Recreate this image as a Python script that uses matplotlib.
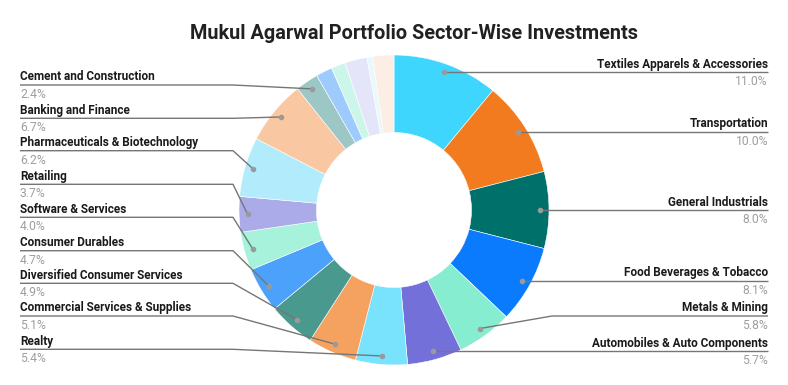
import numpy as np
import matplotlib
matplotlib.use("Agg")
import matplotlib.pyplot as plt
from matplotlib import font_manager as fm

plt.rcParams['font.family'] = ['Roboto', 'DejaVu Sans']

sectors = ["Textiles Apparels & Accessories", "Transportation", "General Industrials",
           "Food Beverages & Tobacco", "Metals & Mining", "Automobiles & Auto Components",
           "Realty", "Commercial Services & Supplies", "Diversified Consumer Services",
           "Consumer Durables", "Software & Services", "Retailing",
           "Pharmaceuticals & Biotechnology", "Banking and Finance", "Cement and Construction",
           "Other 1", "Other 2", "Other 3", "Other 4", "Other 5"]
shares = [11.0, 10.0, 8.0, 8.1, 5.8, 5.7, 5.4, 5.1, 4.9, 4.7, 4.0, 3.7, 6.2, 6.7, 2.4,
          1.7, 1.5, 2.3, 0.6, 2.2]
colors = ["#3fd6fe", "#f37b1f", "#00716a", "#0a7bfd", "#86edd0", "#7470da",
          "#79e3fd", "#f5a160", "#4a998f", "#4ca2fa", "#a6f2da", "#acabea",
          "#b2ecfc", "#f9c8a2", "#9cc7c4", "#9dcbfd", "#cdf6ea", "#e4e5f8",
          "#e8f9fe", "#fdeee5"]
n_labeled = 15
right_count = 6

W, H = 788, 385
fig = plt.figure(figsize=(W / 100, H / 100), dpi=100)
ax = fig.add_axes([0, 0, 1, 1])

def Y(py):
    return H - py

cx, cy, R = 394, 210, 155
wedges, _ = ax.pie(shares, colors=colors, startangle=90, counterclock=False,
                   center=(cx, Y(cy)), radius=R,
                   wedgeprops=dict(width=R * 0.5, edgecolor='white', linewidth=0.4))
ax.set_xlim(0, W)
ax.set_ylim(0, H)
ax.axis('off')

fig.text(414 / W, Y(39) / H, "Mukul Agarwal Portfolio Sector-Wise Investments",
         ha='center', va='baseline', fontsize=14.3, fontweight='bold', color='#212121')

# name font: bold Roboto, sized so the labels span about the reference width
name_prop = fm.FontProperties(family=['Roboto', 'DejaVu Sans'], weight='bold')
renderer = fig.canvas.get_renderer()
name_prop.set_size(10)
probe = ax.text(0, 0, sectors[0], fontproperties=name_prop)
wpx = probe.get_window_extent(renderer).width
probe.remove()
name_fs = 10 * 171.0 / wpx
name_prop.set_size(name_fs)

right_lines = [72.3, 131.7, 211.7, 282.3, 316, 349.3]
left_lines = [349.3, 316, 283.3, 250.7, 217.3, 184.3, 150.7, 118.3, 85]
line_color = '#767676'
pct_fs = 8.7
for i in range(n_labeled):
    w = wedges[i]
    mid = np.deg2rad((w.theta1 + w.theta2) / 2)
    dx = cx + 0.945 * R * np.cos(mid)
    dy = Y(cy) + 0.945 * R * np.sin(mid)
    pct = f"{shares[i]:.1f}%"
    if i < right_count:
        ly = Y(right_lines[i])
        if abs(dy - ly) < 3:
            xs, ys = [dx, 768], [dy, dy]
            ly = dy
        else:
            xs, ys = [dx, 552, 768], [dy, ly, ly]
        ax.plot(xs, ys, color=line_color, lw=1.0, solid_capstyle='butt')
        ax.text(768, ly + 4.5, sectors[i], ha='right', va='baseline',
                fontproperties=name_prop, color='#1a1a1a')
        ax.text(768, ly - 13, pct, ha='right', va='baseline', fontsize=pct_fs,
                color='#9e9e9e')
    else:
        ly = Y(left_lines[i - right_count])
        xs, ys = [20, 233, dx], [ly, ly, dy]
        ax.plot(xs, ys, color=line_color, lw=1.0, solid_capstyle='butt')
        ax.text(20, ly + 4.5, sectors[i], ha='left', va='baseline',
                fontproperties=name_prop, color='#1a1a1a')
        ax.text(20, ly - 13, pct, ha='left', va='baseline', fontsize=pct_fs,
                color='#9e9e9e')
    ax.plot([dx], [dy], 'o', ms=4, color='#9a9a9a', mec='none', zorder=5)

fig.savefig("out.png", dpi=100)
